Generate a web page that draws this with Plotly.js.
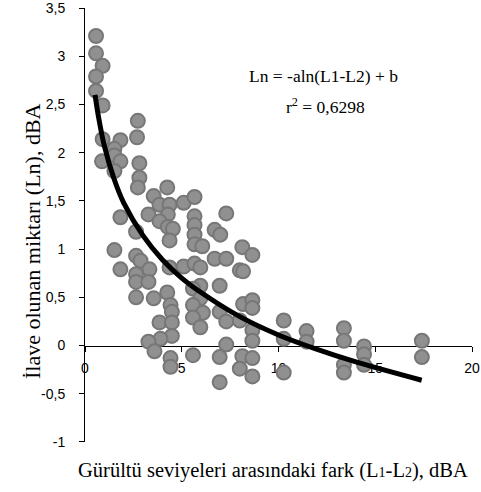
<!DOCTYPE html>
<html>
<head>
<meta charset="utf-8">
<script src="https://cdn.plot.ly/plotly-3.0.1.min.js"></script>
<style>html,body{margin:0;padding:0;background:#fff;}#chart{width:481px;height:492px;}</style>
</head>
<body>
<div id="chart"></div>
<script>
// Scatter data
const pointsX = [0.57,0.57,0.91,0.57,0.57,0.91,2.73,2.69,0.91,1.83,1.52,1.52,0.88,1.83,2.81,1.52,2.81,2.73,4.25,3.55,3.85,4.37,5.10,5.66,3.28,4.28,1.83,3.85,4.28,4.54,2.64,4.37,1.52,2.64,2.87,3.33,1.83,4.37,2.64,2.64,3.28,5.10,2.64,3.55,4.25,4.42,4.49,3.85,4.49,4.49,3.90,3.28,3.59,4.42,4.42,7.30,5.66,5.66,6.70,6.99,5.66,5.66,6.06,8.13,8.65,6.70,7.30,8.00,8.17,5.66,5.96,6.96,5.96,5.58,5.96,5.58,8.17,8.65,8.65,6.09,6.96,5.58,7.30,8.00,5.96,8.65,8.65,7.30,5.58,6.96,8.13,8.65,8.00,8.65,6.96,10.27,10.27,10.27,11.45,11.45,13.38,13.38,13.38,13.38,14.42,14.42,14.42,17.41,17.41];
const pointsY = [3.21,3.03,2.90,2.79,2.64,2.49,2.33,2.16,2.14,2.13,2.04,1.97,1.91,1.91,1.89,1.81,1.74,1.64,1.64,1.55,1.46,1.46,1.48,1.54,1.36,1.36,1.33,1.29,1.23,1.21,1.18,1.09,0.99,0.93,0.88,0.79,0.79,0.81,0.74,0.66,0.66,0.82,0.50,0.49,0.55,0.42,0.35,0.24,0.24,0.10,0.07,0.04,-0.06,-0.13,-0.22,1.37,1.34,1.25,1.20,1.15,1.15,1.05,1.03,1.02,0.94,0.90,0.90,0.78,0.77,0.85,0.81,0.62,0.62,0.59,0.49,0.42,0.43,0.47,0.39,0.34,0.35,0.29,0.25,0.26,0.19,0.16,0.05,0.01,-0.10,-0.12,-0.11,-0.13,-0.24,-0.32,-0.38,0.26,0.07,-0.28,0.15,0.04,0.18,0.05,-0.20,-0.28,-0.01,-0.09,-0.20,0.05,-0.12];

// Logarithmic trend line
const curveX = [0.52, 0.7, 1, 1.5, 2, 3, 4, 5, 6, 8, 10, 12, 14, 17.4];
const curveY = [2.60, 2.37, 2.07, 1.73, 1.48, 1.14, 0.89, 0.70, 0.55, 0.30, 0.11, -0.04, -0.17, -0.36];

// Axis ticks
const xTickVals = [0, 5, 10, 15, 20];
const xTickText = ["0", "5", "10", "15", "20"];
const yTickVals = [-1, -0.5, 0, 0.5, 1, 1.5, 2, 2.5, 3, 3.5];
const yTickText = ["-1", "-0,5", "0", "0,5", "1", "1,5", "2", "2,5", "3", "3,5"];

const sans = "Liberation Sans, Arial, sans-serif";
const serif = "Liberation Serif, Times New Roman, serif";

const traces = [
  {
    type: "scatter", mode: "markers", x: pointsX, y: pointsY,
    marker: {size: 14, color: "#909090", line: {color: "#777777", width: 2}},
    hoverinfo: "skip", showlegend: false, cliponaxis: false
  },
  {
    type: "scatter", mode: "lines", x: curveX, y: curveY,
    line: {color: "#000000", width: 5, shape: "spline"},
    hoverinfo: "skip", showlegend: false
  }
];

const layout = {
  width: 481, height: 492,
  margin: {l: 85, r: 9, t: 8, b: 50},
  paper_bgcolor: "#ffffff", plot_bgcolor: "#ffffff",
  showlegend: false,
  xaxis: {
    range: [0, 20.0001], anchor: "free", position: 1/4.5,
    showline: true, linecolor: "#000", linewidth: 1,
    ticks: "outside", ticklen: 5, tickcolor: "#000",
    tickvals: xTickVals, ticktext: xTickText,
    showgrid: false, zeroline: false, layer: "below traces",
    ticklabelstandoff: 5, ticklabeloverflow: "allow",
    tickfont: {family: sans, size: 14, color: "#000"}
  },
  yaxis: {
    range: [-1.0001, 3.5001],
    showline: true, linecolor: "#000", linewidth: 1,
    ticks: "outside", ticklen: 5, tickcolor: "#000",
    tickvals: yTickVals, ticktext: yTickText,
    showgrid: false, zeroline: false, layer: "below traces",
    ticklabelstandoff: 11, ticklabeloverflow: "allow",
    tickfont: {family: sans, size: 14, color: "#000"}
  },
  annotations: [
    {text: "Ln = -aln(L1-L2) + b", xref: "x", yref: "y", x: 12.35, y: 2.79,
     xanchor: "center", yanchor: "middle",
     showarrow: false, font: {family: serif, size: 17.5, color: "#000"}},
    {text: "r<sup>2</sup> = 0,6298", xref: "x", yref: "y", x: 12.45, y: 2.48,
     xanchor: "center", yanchor: "middle",
     showarrow: false, font: {family: serif, size: 17.5, color: "#000"}},
    {text: "İlave olunan miktarı (Ln), dBA", xref: "paper", yref: "paper", x: -0.137, y: 0.463,
     xanchor: "center", yanchor: "middle",
     textangle: -90, showarrow: false, font: {family: serif, size: 22, color: "#000"}},
    {text: "Gürültü seviyeleri arasındaki fark (L<span style=\"font-size:14px\">1</span>-L<span style=\"font-size:14px\">2</span>), dBA",
     xref: "paper", yref: "paper", x: 0.486, y: -0.065,
     xanchor: "center", yanchor: "middle",
     showarrow: false, font: {family: serif, size: 20.5, color: "#000"}}
  ]
};

Plotly.newPlot("chart", traces, layout, {staticPlot: true, displayModeBar: false});
</script>
</body>
</html>
